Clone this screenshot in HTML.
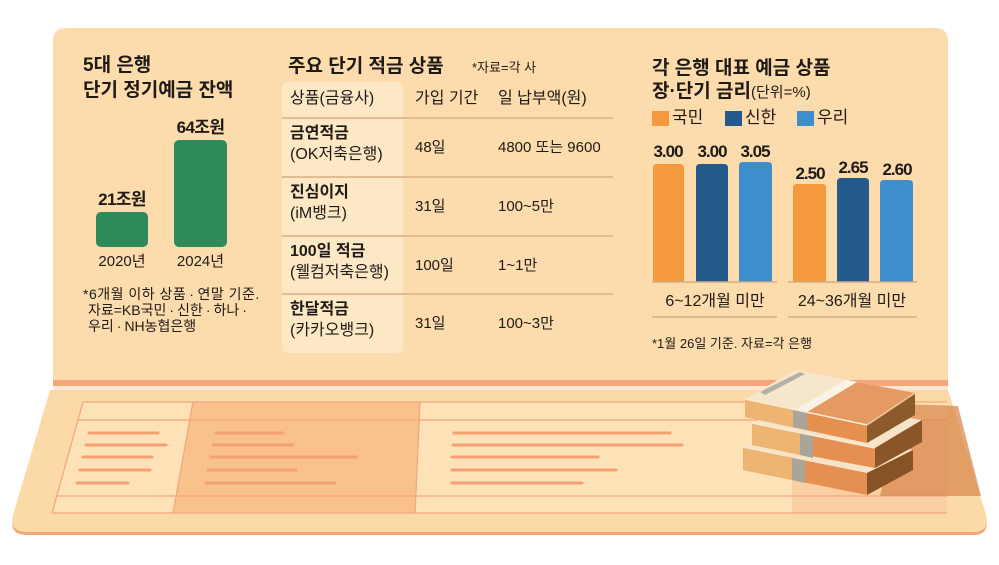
<!DOCTYPE html>
<html><head><meta charset="utf-8">
<style>
html,body{margin:0;padding:0;background:#fff;}
#wrap{position:relative;width:999px;height:565px;overflow:hidden;background:#fff;}
svg{position:absolute;left:0;top:0;}
.t{position:absolute;white-space:nowrap;line-height:1;color:#1f1a16;font-family:"Liberation Sans","Noto Sans CJK KR",sans-serif;}
.b{font-weight:bold;}
.c{text-align:center;}
.num{font-weight:bold;font-size:17px;letter-spacing:-1px;text-align:center;width:50px;}
.d{margin:0 3px;}
</style></head>
<body><div id="wrap">
<svg width="999" height="565" viewBox="0 0 999 565">
  <path d="M53,381 V41 Q53,28 66,28 H935 Q948,28 948,41 V381 Z" fill="#FCDCAC"/>
  <rect x="53" y="380" width="895" height="6" fill="#F4A679"/>
  <rect x="53" y="386" width="895" height="4" fill="#FCE7D6"/>
  <path d="M50,393 L948,393 L986,518 Q990,535 973,535 L27,535 Q9,535 13,518 Z" fill="#F4A679"/>
  <path d="M50,390 L948,390 L986,515 Q990,532 973,532 L27,532 Q9,532 13,515 Z" fill="#FCDAA8"/>
  <polygon points="83,402 947,402 947,513 52,513" fill="#FDE2B8"/>
  <polygon points="193,402 420,402 415,513 173,513" fill="#F9C28C"/>
  <rect x="792" y="420" width="155" height="93" fill="#F6C89A" opacity="0.7"/>
  <g stroke="#F4A67C" stroke-width="1.3" fill="none">
    <line x1="83" y1="402" x2="947" y2="402"/>
    <line x1="78" y1="420" x2="947" y2="420"/>
    <line x1="57" y1="496" x2="947" y2="496"/>
    <line x1="52" y1="513" x2="947" y2="513"/>
    <line x1="83" y1="402" x2="52" y2="513"/>
    <line x1="193" y1="402" x2="173" y2="513"/>
    <line x1="420" y1="402" x2="415" y2="513"/>
  </g>
  <g stroke="#F4A073" stroke-width="3" stroke-linecap="round">
    <line x1="89" y1="433" x2="158" y2="433"/>
    <line x1="86" y1="445" x2="166" y2="445"/>
    <line x1="83" y1="457" x2="152" y2="457"/>
    <line x1="80" y1="470" x2="150" y2="470"/>
    <line x1="77" y1="483" x2="128" y2="483"/>
    <line x1="216" y1="433" x2="283" y2="433"/>
    <line x1="213" y1="445" x2="293" y2="445"/>
    <line x1="211" y1="457" x2="356" y2="457"/>
    <line x1="208" y1="470" x2="296" y2="470"/>
    <line x1="206" y1="483" x2="335" y2="483"/>
    <line x1="454" y1="433" x2="670" y2="433"/>
    <line x1="453" y1="445" x2="682" y2="445"/>
    <line x1="452" y1="457" x2="598" y2="457"/>
    <line x1="452" y1="470" x2="616" y2="470"/>
    <line x1="452" y1="483" x2="582" y2="483"/>
  </g>
  <polygon points="905,404 958,406 981,496 880,496" fill="#D98A4F" opacity="0.75"/>
  <polygon points="743,448 789,425 913,450 867,473" fill="#F6E4C8"/>
  <polygon points="743,448 867,473 867,495 743,470" fill="#E58F52"/>
  <polygon points="743,448 792,458 792,480 743,470" fill="#EDB472"/>
  <polygon points="792,458 805,461 805,483 792,480" fill="#A9A59B"/>
  <polygon points="867,473 913,450 913,470 867,495" fill="#875325"/>
  <polygon points="752,423 798,400 922,420 875,448" fill="#F6E4C8"/>
  <polygon points="752,423 875,448 875,468 752,445" fill="#E58F52"/>
  <polygon points="752,423 800,433 800,455 752,445" fill="#EDB472"/>
  <polygon points="800,433 813,435 813,458 800,455" fill="#A9A59B"/>
  <polygon points="875,448 922,420 922,442 875,468" fill="#8A5628"/>
  <line x1="752" y1="423" x2="875" y2="448" stroke="#FBEBD4" stroke-width="1.5"/>
  <polygon points="745,399 795,370 915,393 867,425" fill="#F6E6CC"/>
  <polygon points="807,412 857,382 915,393 867,425" fill="#E49A62"/>
  <polygon points="795,410 807,412 857,382 845,380" fill="#FBF3E5"/>
  <polygon points="760,392 800,372 805,374 765,395" fill="#B5B0A5"/>
  <polygon points="745,399 867,425 867,443 745,417" fill="#E5904F"/>
  <polygon points="745,399 793,409 793,427 745,417" fill="#EDB472"/>
  <polygon points="793,409 807,412 807,430 793,427" fill="#A9A59B"/>
  <polygon points="867,425 915,393 915,415 867,443" fill="#8D5A2C"/>
  <line x1="745" y1="399" x2="867" y2="425" stroke="#FBEBD4" stroke-width="1.5"/>
  <line x1="867" y1="425" x2="915" y2="393" stroke="#F4C89A" stroke-width="1.5"/>

  <rect x="96" y="212" width="52" height="35" rx="5" fill="#2E8A5B"/>
  <rect x="174" y="140" width="53" height="107" rx="5" fill="#2E8A5B"/>

  <rect x="282" y="82" width="121" height="271" rx="6" fill="#FDE8C6"/>
  <g stroke="#D9AE85" stroke-width="1.5">
    <line x1="282" y1="118" x2="613" y2="118"/>
    <line x1="282" y1="177" x2="613" y2="177"/>
    <line x1="282" y1="236" x2="613" y2="236"/>
    <line x1="282" y1="294" x2="613" y2="294"/>
  </g>

  <g>
    <path d="M653,282 V168 Q653,164 657,164 H680 Q684,164 684,168 V282 Z" fill="#F5993E"/>
    <path d="M696,282 V168 Q696,164 700,164 H724 Q728,164 728,168 V282 Z" fill="#245A8B"/>
    <path d="M739,282 V166 Q739,162 743,162 H768 Q772,162 772,166 V282 Z" fill="#3E8ECB"/>
    <path d="M793,282 V188 Q793,184 797,184 H822 Q826,184 826,188 V282 Z" fill="#F5993E"/>
    <path d="M837,282 V182 Q837,178 841,178 H865 Q869,178 869,182 V282 Z" fill="#245A8B"/>
    <path d="M880,282 V184 Q880,180 884,180 H909 Q913,180 913,184 V282 Z" fill="#3E8ECB"/>
  </g>
  <g stroke="#D4AE86" stroke-width="1.5">
    <line x1="652" y1="282" x2="777" y2="282"/>
    <line x1="788" y1="282" x2="917" y2="282"/>
    <line x1="652" y1="317" x2="777" y2="317"/>
    <line x1="788" y1="317" x2="917" y2="317"/>
  </g>
  <rect x="652" y="111" width="17" height="15" fill="#F5993E"/>
  <rect x="725" y="111" width="17" height="15" fill="#245A8B"/>
  <rect x="797" y="111" width="17" height="15" fill="#3E8ECB"/>
</svg>

<div class="t b" style="left:83px;top:56px;font-size:19px;">5대 은행</div>
<div class="t b" style="left:83px;top:81px;font-size:19px;">단기 정기예금 잔액</div>
<div class="t b c" style="left:160px;top:119px;width:81px;font-size:17px;letter-spacing:-0.6px;">64조원</div>
<div class="t b c" style="left:82px;top:191px;width:80px;font-size:17px;letter-spacing:-0.6px;">21조원</div>
<div class="t c" style="left:82px;top:254px;width:80px;font-size:15px;">2020년</div>
<div class="t c" style="left:160px;top:254px;width:81px;font-size:15px;">2024년</div>
<div class="t" style="left:83px;top:287px;font-size:14px;letter-spacing:0.5px;">*6개월 이하 상품<span class="d">·</span>연말 기준.</div>
<div class="t" style="left:88px;top:303px;font-size:14px;">자료=KB국민<span class="d">·</span>신한<span class="d">·</span>하나<span class="d">·</span></div>
<div class="t" style="left:88px;top:319px;font-size:14px;">우리<span class="d">·</span>NH농협은행</div>

<div class="t b" style="left:288px;top:57px;font-size:19px;">주요 단기 적금 상품</div>
<div class="t" style="left:472px;top:61px;font-size:13px;">*자료=각 사</div>
<div class="t" style="left:290px;top:91px;font-size:16px;">상품(금융사)</div>
<div class="t" style="left:415px;top:91px;font-size:16px;">가입 기간</div>
<div class="t" style="left:498px;top:91px;font-size:16px;">일 납부액(원)</div>

<div class="t b" style="left:290px;top:126px;font-size:16px;">금연적금</div>
<div class="t" style="left:290px;top:147px;font-size:16px;">(OK저축은행)</div>
<div class="t" style="left:415px;top:140px;font-size:15px;">48일</div>
<div class="t" style="left:498px;top:140px;font-size:15px;">4800 또는 9600</div>

<div class="t b" style="left:290px;top:185px;font-size:16px;">진심이지</div>
<div class="t" style="left:290px;top:206px;font-size:16px;">(iM뱅크)</div>
<div class="t" style="left:415px;top:199px;font-size:15px;">31일</div>
<div class="t" style="left:498px;top:199px;font-size:15px;">100~5만</div>

<div class="t b" style="left:290px;top:244px;font-size:16px;">100일 적금</div>
<div class="t" style="left:290px;top:265px;font-size:16px;">(웰컴저축은행)</div>
<div class="t" style="left:415px;top:258px;font-size:15px;">100일</div>
<div class="t" style="left:498px;top:258px;font-size:15px;">1~1만</div>

<div class="t b" style="left:290px;top:302px;font-size:16px;">한달적금</div>
<div class="t" style="left:290px;top:323px;font-size:16px;">(카카오뱅크)</div>
<div class="t" style="left:415px;top:316px;font-size:15px;">31일</div>
<div class="t" style="left:498px;top:316px;font-size:15px;">100~3만</div>

<div class="t b" style="left:652px;top:59px;font-size:19px;">각 은행 대표 예금 상품</div>
<div class="t b" style="left:652px;top:82px;font-size:19px;">장·단기 금리<span style="font-weight:normal;font-size:15px;">(단위=%)</span></div>
<div class="t" style="left:672px;top:109px;font-size:17px;">국민</div>
<div class="t" style="left:745px;top:109px;font-size:17px;">신한</div>
<div class="t" style="left:817px;top:109px;font-size:17px;">우리</div>

<div class="t num" style="left:643px;top:143px;">3.00</div>
<div class="t num" style="left:687px;top:143px;">3.00</div>
<div class="t num" style="left:730px;top:143px;">3.05</div>
<div class="t num" style="left:785px;top:165px;">2.50</div>
<div class="t num" style="left:828px;top:159px;">2.65</div>
<div class="t num" style="left:872px;top:161px;">2.60</div>

<div class="t c" style="left:655px;top:294px;width:120px;font-size:16px;">6~12개월 미만</div>
<div class="t c" style="left:792px;top:294px;width:120px;font-size:16px;">24~36개월 미만</div>
<div class="t" style="left:652px;top:337px;font-size:13px;">*1월 26일 기준. 자료=각 은행</div>
</div></body></html>
